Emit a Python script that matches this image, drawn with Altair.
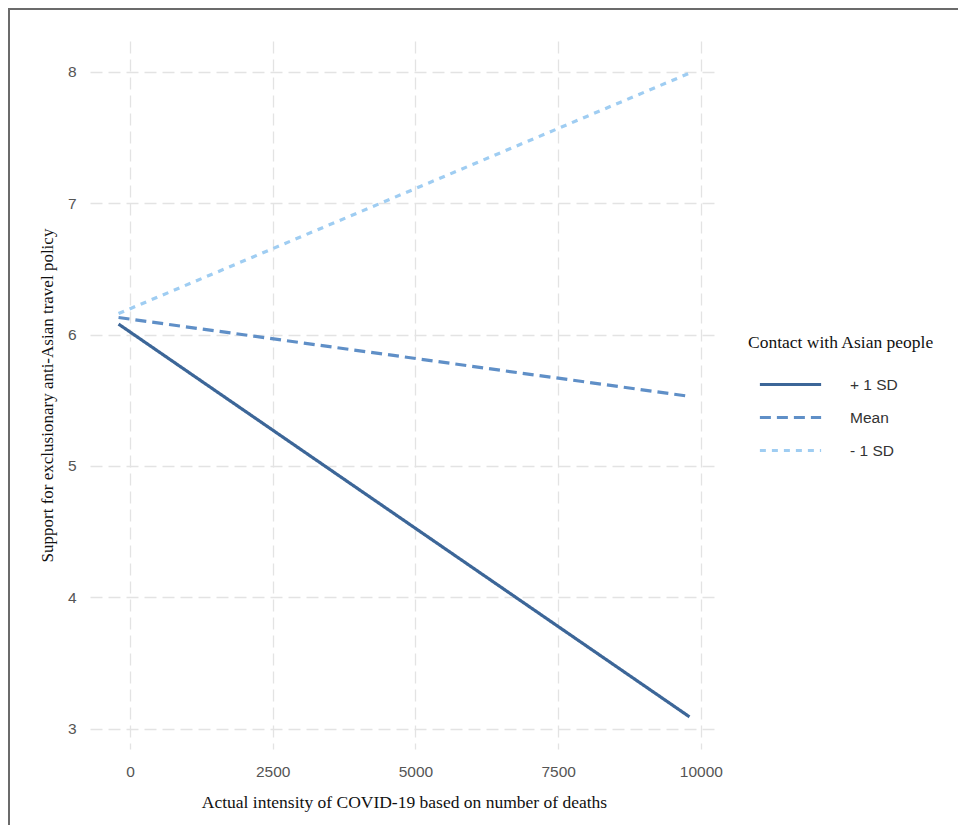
import altair as alt
import pandas as pd

groups = ["+ 1 SD", "Mean", "- 1 SD"]
x_start = [-200, -200, -200]
x_end = [9800, 9800, 9800]
y_start = [6.08, 6.13, 6.16]
y_end = [3.09, 5.53, 7.99]
colors = ["#3c6698", "#5f8fc7", "#9fcdf2"]
dashes = [[1, 0], [11, 6], [6, 6]]
x_ticks = [0, 2500, 5000, 7500, 10000]
y_ticks = [3, 4, 5, 6, 7, 8]

rows = []
for g, xs, xe, ys, ye in zip(groups, x_start, x_end, y_start, y_end):
    rows.append({"group": g, "x": xs, "y": ys})
    rows.append({"group": g, "x": xe, "y": ye})
df = pd.DataFrame(rows)

W, H = 628, 708
PL, PT, PR, PB = 82, 33, 240, 76

legend = alt.Legend(
    title="Contact with Asian people",
    orient="none",
    legendX=658,
    legendY=293,
    symbolType="stroke",
    symbolSize=3750,
    symbolStrokeWidth=3.2,
    symbolOffset=10,
    titleFont="Liberation Serif",
    titleFontSize=17.5,
    titleFontWeight="normal",
    titleColor="#111111",
    titleLimit=400,
    titlePadding=20,
    labelFont="Liberation Sans",
    labelFontSize=15.5,
    labelColor="#333333",
    labelOffset=27,
    clipHeight=26,
    rowPadding=7,
)

lines = alt.Chart(df).mark_line(strokeWidth=3.2, strokeCap="butt").encode(
    x=alt.X(
        "x:Q",
        scale=alt.Scale(domain=[-700, 10300], nice=False, zero=False),
        axis=alt.Axis(values=x_ticks, format="d", labelPadding=15, titlePadding=14,
                      title="Actual intensity of COVID-19 based on number of deaths"),
    ),
    y=alt.Y(
        "y:Q",
        scale=alt.Scale(domain=[2.845, 8.235], nice=False, zero=False),
        axis=alt.Axis(values=y_ticks, format="d", labelPadding=14, titlePadding=11,
                      titleFontSize=17,
                      title="Support for exclusionary anti-Asian travel policy"),
    ),
    color=alt.Color("group:N", sort=groups,
                    scale=alt.Scale(domain=groups, range=colors), legend=legend),
    strokeDash=alt.StrokeDash("group:N", sort=groups,
                              scale=alt.Scale(domain=groups, range=dashes), legend=legend),
)

frame_df = pd.DataFrame({"k": [0]})
frame_left = alt.Chart(frame_df).mark_rule(color="#6b6b6b", strokeWidth=2).encode(
    x=alt.value(-PL + 1), y=alt.value(-PT), y2=alt.value(H + PB)
)
frame_top = alt.Chart(frame_df).mark_rule(color="#6b6b6b", strokeWidth=2).encode(
    x=alt.value(-PL), x2=alt.value(W + PR), y=alt.value(-PT + 1)
)

chart = alt.layer(lines, frame_left, frame_top).properties(
    width=W,
    height=H,
    background="white",
    autosize=alt.AutoSizeParams(type="none"),
    padding={"left": PL, "top": PT, "right": PR, "bottom": PB},
).configure_view(
    stroke=None
).configure_axis(
    domain=False,
    ticks=False,
    grid=True,
    gridColor="#e3e3e3",
    gridDash=[12, 6],
    gridWidth=1.3,
    labelFont="Liberation Sans",
    labelFontSize=15.5,
    labelColor="#555555",
    titleFont="Liberation Serif",
    titleFontSize=17.5,
    titleFontWeight="normal",
    titleColor="#111111",
)

chart.save("out.html", embed_options={"renderer": "svg", "actions": False})
